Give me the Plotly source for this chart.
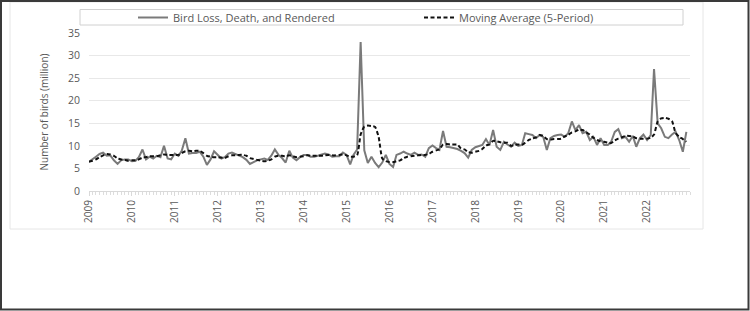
import plotly.graph_objects as go
import pandas as pd

# Monthly bird loss, death and rendered (million birds), Jan 2009 - Dec 2022
loss_2009 = [6.5, 7.0, 7.6, 8.2, 8.5, 7.8, 7.9, 6.8, 6.0, 6.8, 7.0, 7.0]
loss_2010 = [6.6, 6.7, 7.5, 9.2, 7.0, 7.6, 7.2, 7.8, 7.5, 10.0, 7.2, 7.0]
loss_2011 = [8.3, 7.8, 8.9, 11.7, 8.3, 8.4, 8.4, 8.7, 7.6, 5.8, 7.0, 8.8]
loss_2012 = [8.0, 7.2, 7.5, 8.3, 8.5, 8.2, 7.9, 7.5, 6.9, 6.0, 6.4, 6.8]
loss_2013 = [7.0, 7.2, 6.9, 7.8, 9.2, 8.0, 7.3, 6.3, 8.9, 7.4, 6.8, 7.5]
loss_2014 = [8.0, 8.0, 7.6, 7.6, 7.8, 8.0, 8.3, 8.1, 7.6, 7.7, 7.7, 8.5]
loss_2015 = [8.0, 5.9, 8.0, 9.2, 33.0, 9.0, 6.2, 7.6, 6.2, 5.3, 6.3, 8.0]
loss_2016 = [6.0, 5.3, 8.0, 8.3, 8.7, 8.3, 8.0, 8.5, 8.0, 8.1, 7.6, 9.5]
loss_2017 = [10.1, 9.5, 9.1, 13.3, 9.8, 9.7, 9.5, 9.3, 8.9, 8.4, 7.4, 9.1]
loss_2018 = [9.7, 10.0, 10.2, 11.5, 10.2, 13.5, 9.8, 9.1, 10.9, 10.3, 9.8, 10.7]
loss_2019 = [10.0, 10.2, 12.8, 12.6, 12.4, 11.7, 12.4, 12.0, 9.1, 11.7, 12.2, 12.4]
loss_2020 = [12.5, 12.0, 12.8, 15.4, 13.5, 14.6, 12.8, 13.1, 11.3, 12.0, 10.2, 11.7]
loss_2021 = [10.2, 10.2, 10.9, 13.1, 13.7, 11.7, 12.0, 10.9, 12.2, 9.8, 11.7, 12.5]
loss_2022 = [11.3, 12.4, 27.0, 15.0, 13.9, 12.0, 11.7, 12.5, 13.1, 11.3, 8.7, 13.1]

# Moving average (5-period)
ma_2009 = [6.5, 6.7, 7.0, 7.5, 7.9, 8.2, 8.1, 7.8, 7.2, 7.0, 6.9, 6.7]
ma_2010 = [6.8, 6.8, 7.0, 7.4, 7.5, 7.7, 7.7, 7.7, 7.9, 8.1, 8.0, 8.0]
ma_2011 = [8.0, 8.0, 8.4, 8.8, 8.9, 8.8, 8.9, 8.9, 8.4, 7.8, 7.6, 7.5]
ma_2012 = [7.5, 7.4, 7.3, 7.7, 7.9, 7.9, 8.0, 8.0, 7.8, 7.3, 7.1, 6.9]
ma_2013 = [6.7, 6.6, 6.7, 7.0, 7.6, 7.8, 7.8, 7.7, 7.9, 7.7, 7.5, 7.6]
ma_2014 = [7.7, 7.9, 7.8, 7.8, 7.8, 7.8, 7.9, 8.0, 7.9, 7.9, 8.0, 8.1]
ma_2015 = [7.9, 7.6, 7.6, 7.9, 12.5, 14.3, 14.5, 14.4, 14.2, 12.0, 7.2, 6.6]
ma_2016 = [6.4, 6.4, 6.6, 6.8, 7.3, 7.6, 7.7, 7.8, 7.9, 8.0, 8.0, 8.2]
ma_2017 = [8.7, 9.0, 9.2, 10.3, 10.4, 10.3, 10.3, 10.3, 9.4, 9.2, 8.6, 8.5]
ma_2018 = [8.7, 8.9, 9.3, 10.1, 10.3, 11.1, 11.0, 10.8, 10.7, 10.7, 10.0, 10.2]
ma_2019 = [10.3, 10.2, 10.7, 11.3, 11.6, 11.9, 12.4, 12.2, 11.5, 11.4, 11.5, 11.5]
ma_2020 = [11.6, 12.1, 12.4, 13.0, 13.2, 13.6, 13.5, 13.0, 12.5, 11.8, 11.3, 11.0]
ma_2021 = [10.9, 10.7, 10.6, 11.2, 11.6, 11.9, 12.2, 12.2, 12.1, 11.7, 11.6, 11.6]
ma_2022 = [11.6, 11.8, 12.5, 15.4, 16.1, 16.2, 16.0, 15.5, 12.8, 12.0, 11.5, 10.9]

years = [str(y) for y in range(2009, 2023)]
loss = (loss_2009 + loss_2010 + loss_2011 + loss_2012 + loss_2013 + loss_2014 + loss_2015
        + loss_2016 + loss_2017 + loss_2018 + loss_2019 + loss_2020 + loss_2021 + loss_2022)
ma = (ma_2009 + ma_2010 + ma_2011 + ma_2012 + ma_2013 + ma_2014 + ma_2015
      + ma_2016 + ma_2017 + ma_2018 + ma_2019 + ma_2020 + ma_2021 + ma_2022)
months = pd.date_range("2009-01-01", periods=len(loss), freq="MS")

W, H = 750, 311
L, R, T, B = 89, 60, 33, 120
pw, ph = W - L - R, H - T - B


def px(x):
    return (x - L) / pw


def py(y):
    return (H - B - y) / ph


FONT = "Open Sans"
fig = go.Figure()
fig.add_trace(go.Scatter(x=months, y=loss, mode="lines", name="Bird Loss, Death, and Rendered",
                         line=dict(color="#7a7a7a", width=2)))
fig.add_trace(go.Scatter(x=months, y=ma, mode="lines", name="Moving Average (5-Period)",
                         line=dict(color="#111111", width=2, dash="4px,2.5px", shape="spline", smoothing=0.5)))

fig.update_layout(
    width=W, height=H,
    margin=dict(l=L, r=R, t=T, b=B, pad=0, autoexpand=False),
    paper_bgcolor="white", plot_bgcolor="white",
    font=dict(family=FONT, color="#595959", size=10),
    showlegend=True,
    legend=dict(orientation="h", xref="container", yref="container",
                x=133 / W, xanchor="left", y=1 - 17.5 / H, yanchor="middle",
                bgcolor="rgba(0,0,0,0)", font=dict(size=11, color="#595959"),
                entrywidth=241, entrywidthmode="pixels", itemwidth=30, tracegroupgap=0),
    xaxis=dict(type="date", range=["2009-01-01", "2023-01-01"],
               tickvals=[f"{y}-01-01" for y in years], ticktext=years,
               tickangle=-90, tickfont=dict(size=10, color="#595959"),
               showgrid=False, zeroline=False, showline=True, linecolor="#d9d9d9",
               ticks="outside", ticklen=4, tickcolor="#d9d9d9",
               minor=dict(dtick="M1", ticks="outside", ticklen=3, tickcolor="#dddddd", showgrid=False)),
    yaxis=dict(range=[0, 35], dtick=5, showgrid=True, gridcolor="#e8e8e8", gridwidth=1,
               zeroline=False, showline=False, ticks="", ticklabelstandoff=8,
               tickfont=dict(size=10.5, color="#595959"),
               title=dict(text="Number of birds (million)", font=dict(size=10, color="#595959"), standoff=17)),
    shapes=[
        dict(type="rect", xref="paper", yref="paper", x0=px(80), x1=px(683), y0=py(25), y1=py(9.5),
             line=dict(color="#d0d0d0", width=1), fillcolor="rgba(0,0,0,0)", layer="below"),
        dict(type="rect", xref="paper", yref="paper", x0=px(10), x1=px(703), y0=py(229), y1=py(2),
             line=dict(color="#e6e6e6", width=1), fillcolor="rgba(0,0,0,0)", layer="below"),
        dict(type="rect", xref="paper", yref="paper", x0=px(1), x1=px(748.5), y0=py(309.5), y1=py(1),
             line=dict(color="#3a3a3a", width=2), fillcolor="rgba(0,0,0,0)", layer="below"),
    ],
)

fig.write_html("out.html")
